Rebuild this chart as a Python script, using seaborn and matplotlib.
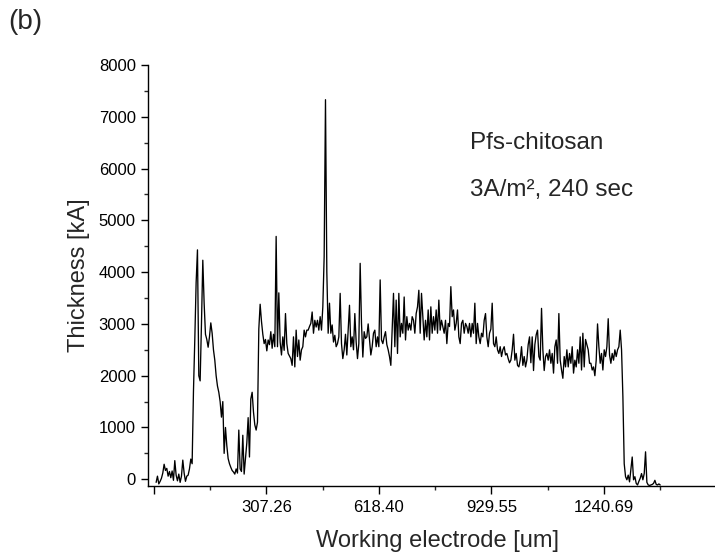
import numpy as np
import pandas as pd
import matplotlib
matplotlib.use("Agg")
import matplotlib.pyplot as plt
import seaborn as sns

# ---- data ----
x_start = 2.0          # um, first sample position
x_step = 3.69          # um, sampling step of the profile

# left baseline + first hump (thickness, kA)
seg_left = [-60, 60, -90, -40, 20, 120, 290, 170, 210, 60,
            150, 30, 160, -20, 360, 80, -30, 100, -60, 60,
            370, 120, -40, 60, 80, 200, 390, 300, 1700, 2700,
            3800, 4430, 2000, 1900, 3000, 4230, 3400, 2800, 2700, 2550,
            2750, 3020, 2820, 2500, 2300, 2000, 1800, 1680, 1500, 1200,
            1500, 500, 1000, 650, 400, 300, 230, 170, 140, 100,
            200, 120, 950, 200, 150, 850, 100, 400, 700, 1190,
            430, 1550, 1680, 1300, 1050, 950, 1100]
# plateau start with the big spike
seg_mid1 = [2900, 3380, 3050, 2800, 2620, 2700, 2480, 2690, 2600, 2850,
            2530, 2800, 2560, 4690, 2560, 3600, 2650, 2400, 2750, 2490,
            3200, 2620, 2430, 2380, 2330, 2200, 2750, 2170, 2880, 2370,
            2690, 2300, 2500, 2560, 2880, 2750, 2880, 2880, 2950, 3010,
            3230, 2820, 3070, 2940, 3070, 2880, 3140, 2880, 3330, 4300,
            7330, 4000, 2820, 3400, 2820, 2980, 2650, 2780, 2560, 2620,
            2750, 3590, 2620, 2330, 2500, 2800, 2400, 2880, 3360, 2560,
            2750, 2500, 3200, 2650, 2330, 2620, 4170, 3010, 2360, 2850,
            2720]
# central plateau
seg_mid2 = [2750, 3000, 2700, 2400, 2560, 2820, 2880, 2560, 2750, 2560,
            3850, 2690, 2620, 2750, 2850, 2600, 2500, 2370, 2200, 2900,
            3590, 2560, 3460, 2430, 3590, 2750, 3010, 2820, 3520, 2690,
            3140, 2880, 3010, 2880, 3140, 3070, 2820, 3200, 3330, 3650,
            2820, 3590, 3140, 2690, 3070, 2750, 3270, 2690, 3330, 2820,
            3140, 2880, 3270, 2820, 3460, 2880, 3070, 2950, 2820, 3070,
            2620, 3010, 2950, 3720, 3140, 3270, 2880, 3010, 3270, 2750,
            2620, 3010, 3070, 2820, 3010, 2950, 2820, 3010, 2750, 3010,
            2820, 3400, 2620, 3010]
# right plateau
seg_right1 = [2750, 2620, 2820, 2750, 3070, 3200, 2750, 2560, 2820, 2900,
              3400, 2620, 2560, 2750, 2500, 2430, 2560, 2370, 2500, 2560,
              2400, 2430, 2330, 2250, 2300, 2500, 2800, 2300, 2430, 2200,
              2170, 2300, 2560, 2200, 2370, 2170, 2300, 2600, 2750, 2250,
              2750, 2100, 2600, 2790, 2880, 2370, 2300, 3300, 2500, 2100,
              2370, 2430, 2300, 2500, 2240, 2430, 2050, 2560, 2690, 2240,
              3200, 2300, 2110, 1950, 2370, 2170, 2500, 2170, 2430, 2240,
              2560, 2050, 2300, 2170, 2500, 2240, 2750, 2110, 2820, 2170]
# end of plateau + drop + right baseline
seg_right2 = [2700, 2600, 2500, 2240, 2240, 2110, 2170, 2000, 2300, 3000,
              2560, 2240, 2430, 2110, 2500, 2370, 2560, 3100, 2400, 2240,
              2430, 2300, 2500, 2370, 2500, 2560, 2880, 2500, 1600, 300,
              50, -10, 80, -50, 200, 430, -10, 50, -80, -110,
              -40, 20, 110, -10, 110, 530, -60, -110, -120, -110,
              -100, -80, -20, -100, -110, -90, -110]

thickness = np.array(seg_left + seg_mid1 + seg_mid2 + seg_right1 + seg_right2, dtype=float)
position = x_start + x_step * np.arange(len(thickness))
df = pd.DataFrame({"position": position, "thickness": thickness})

xtick_major = [-3.88, 307.26, 618.40, 929.55, 1240.69]
xtick_labels = ["", "307.26", "618.40", "929.55", "1240.69"]
xtick_minor = [151.69, 462.83, 773.97, 1085.12, 1396.26]
ytick_major = [0, 1000, 2000, 3000, 4000, 5000, 6000, 7000, 8000]
ytick_minor = [500, 1500, 2500, 3500, 4500, 5500, 6500, 7500]

# ---- style ----
sns.set_style("ticks")
plt.rcParams["font.family"] = ["Liberation Sans", "DejaVu Sans"]

W, H = 715, 553
fig = plt.figure(figsize=(W / 100, H / 100), dpi=100)
ax = fig.add_axes([148.3 / W, 1 - 486 / H, (W - 148.3) / W, 421 / H])

sns.lineplot(data=df, x="position", y="thickness", ax=ax, color="black",
             linewidth=0.95, estimator=None, sort=False)

ax.set_xlim(-19.65, 1548.4)
ax.set_ylim(-130, 8000)

ax.set_xticks(xtick_major)
ax.set_xticklabels(xtick_labels)
ax.set_xticks(xtick_minor, minor=True)
ax.set_yticks(ytick_major)
ax.set_yticks(ytick_minor, minor=True)

ax.tick_params(axis="both", which="major", labelsize=12, color="black",
               labelcolor="black", width=1.0)
ax.tick_params(axis="x", which="major", length=6, pad=4)
ax.tick_params(axis="x", which="minor", length=3, width=1.0)
ax.tick_params(axis="y", which="major", length=5, pad=4)
ax.tick_params(axis="y", which="minor", length=3, width=1.0)

for s in ["left", "bottom"]:
    ax.spines[s].set_color("black")
    ax.spines[s].set_linewidth(1.0)
sns.despine(ax=ax, top=True, right=True)

ax.set_xlabel("Working electrode [um]", fontsize=17, labelpad=9)
ax.xaxis.set_label_coords(0.51, -0.105)
ax.set_ylabel("Thickness [kA]", fontsize=17, labelpad=6)

ax.text(0.568, 0.815, "Pfs-chitosan", transform=ax.transAxes,
        fontsize=17.5, va="center", ha="left")
ax.text(0.568, 0.703, "3A/m², 240 sec", transform=ax.transAxes,
        fontsize=17.5, va="center", ha="left")
fig.text(0.011, 0.96, "(b)", fontsize=20, va="center", ha="left")

fig.savefig("out.png", dpi=100)
